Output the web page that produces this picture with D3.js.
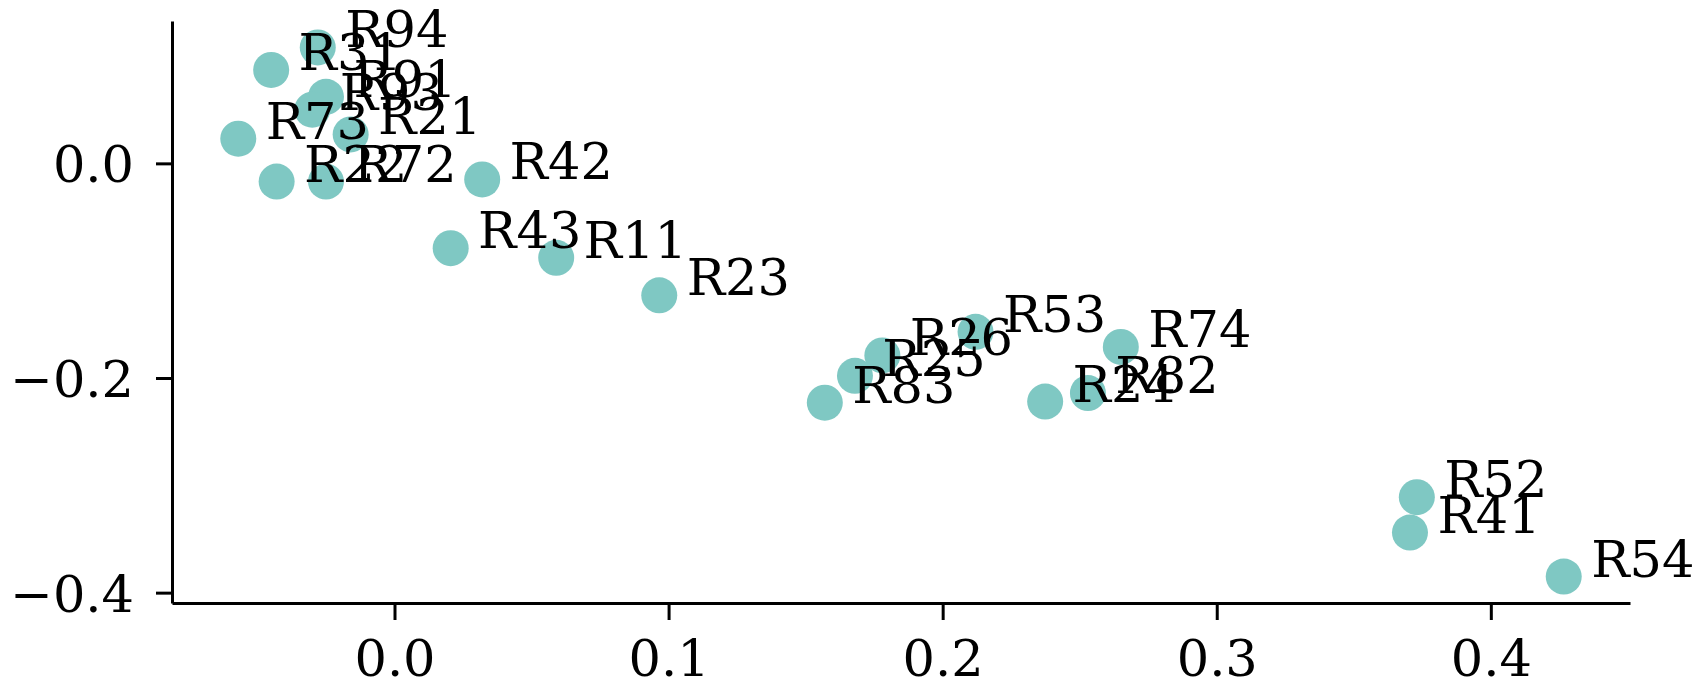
<!DOCTYPE html>
<html>
<head>
<meta charset="utf-8">
<script src="https://cdn.jsdelivr.net/npm/d3@7"></script>
<style>
  body { margin: 0; background: #fff; }
  svg text { font-family: "DejaVu Serif", serif; fill: #000; }
  .axis path, .axis line { stroke: #000; stroke-width: 3; }
</style>
</head>
<body>
<svg class="scattersvg" width="1702" height="682"></svg>
<script>
var names = ["R94", "R31", "R91", "R93", "R73", "R21", "R22", "R72", "R42",
             "R43", "R11", "R23", "R26", "R53", "R25", "R83", "R74", "R82",
             "R24", "R52", "R41", "R54"];
var xvals = [-0.028, -0.045, -0.025, -0.030, -0.057, -0.016, -0.043, -0.025, 0.032,
             0.0205, 0.059, 0.0966, 0.178, 0.212, 0.168, 0.157, 0.265, 0.253,
             0.2374, 0.373, 0.3705, 0.4266];
var yvals = [0.108, 0.087, 0.062, 0.050, 0.023, 0.027, -0.017, -0.017, -0.015,
             -0.079, -0.088, -0.123, -0.179, -0.157, -0.198, -0.223, -0.171, -0.214,
             -0.222, -0.311, -0.344, -0.385];
var xticks = [0.0, 0.1, 0.2, 0.3, 0.4];
var yticks = [-0.4, -0.2, 0.0];

var margin = {top: 21, right: 72, bottom: 79, left: 172};
var width = 1702 - margin.left - margin.right,
    height = 682 - margin.top - margin.bottom;

// pad the data range by 5% like matplotlib does
function padded(vals)
{
	var ext = d3.extent(vals), pad = (ext[1] - ext[0]) * 0.05;
	return [ext[0] - pad, ext[1] + pad];
}

var x = d3.scaleLinear().domain(padded(xvals)).range([0, width]);
var y = d3.scaleLinear().domain(padded(yvals)).range([height, 0]);

var svg = d3.select(".scattersvg")
    .append("g")
    .attr("transform", "translate(" + margin.left + "," + margin.top + ")");

var fmt = d3.format(".1f");

var xaxis = svg.append("g")
    .attr("class", "axis")
    .attr("transform", "translate(0," + height + ")")
    .call(d3.axisBottom(x).tickValues(xticks).tickFormat(fmt).tickSizeInner(17).tickSizeOuter(0).tickPadding(20));
xaxis.selectAll("text")
    .style("font-size", "51px")
    .attr("dy", "0.71em");

var yaxis = svg.append("g")
    .attr("class", "axis")
    .call(d3.axisLeft(y).tickValues(yticks).tickFormat(fmt).tickSizeInner(16).tickSizeOuter(0).tickPadding(22));
yaxis.selectAll("text")
    .style("font-size", "51px")
    .attr("dy", "0.36em");

var points = names.map(function(n, i) { return {name: n, x: xvals[i], y: yvals[i]}; });

svg.append("g")
    .attr("class", "dots")
    .selectAll("circle")
    .data(points)
    .enter()
    .append("circle")
    .attr("cx", function(d) { return x(d.x); })
    .attr("cy", function(d) { return y(d.y); })
    .attr("r", 18)
    .style("fill", "#7fc8c3");

svg.append("g")
    .attr("class", "labels")
    .selectAll("text")
    .data(points)
    .enter()
    .append("text")
    .attr("x", function(d) { return x(d.x + 0.01); })
    .attr("y", function(d) { return y(d.y); })
    .style("font-size", "51px")
    .style("text-anchor", "start")
    .text(function(d) { return d.name; });
</script>
</body>
</html>
